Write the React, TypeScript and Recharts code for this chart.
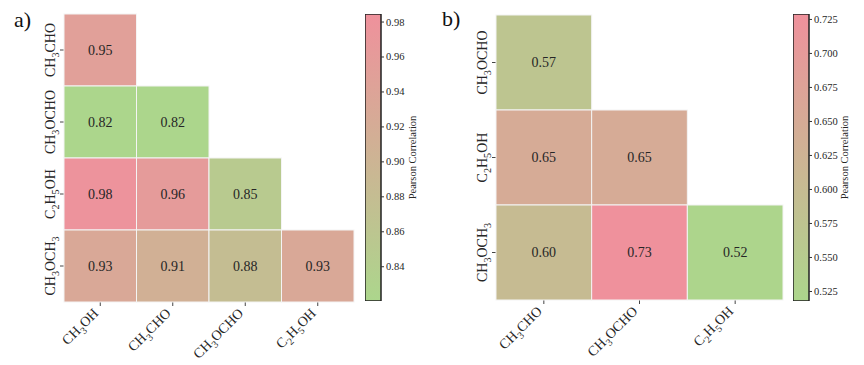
import React from "react"
import { ScatterChart, Scatter, XAxis, YAxis, BarChart, Bar } from "recharts"

// panel a
const colsA = ["CH3OH", "CH3CHO", "CH3OCHO", "C2H5OH"]
const rowsA = ["CH3CHO", "CH3OCHO", "C2H5OH", "CH3OCH3"]
const valuesA = [
  [0.95],
  [0.82, 0.82],
  [0.98, 0.96, 0.85],
  [0.93, 0.91, 0.88, 0.93],
]
const rangeA = [0.8204, 0.9846]
const ticksA = [0.84, 0.86, 0.88, 0.9, 0.92, 0.94, 0.96, 0.98]

// panel b
const colsB = ["CH3CHO", "CH3OCHO", "C2H5OH"]
const rowsB = ["CH3OCHO", "C2H5OH", "CH3OCH3"]
const valuesB = [
  [0.57],
  [0.65, 0.65],
  [0.6, 0.73, 0.52],
]
const rangeB = [0.518, 0.729]
const ticksB = [0.525, 0.55, 0.575, 0.6, 0.625, 0.65, 0.675, 0.7, 0.725]

const LOW = [172, 214, 140]
const HIGH = [239, 145, 156]
const FONT = "Liberation Serif, DejaVu Serif, serif"
const TEXT = "#262626"
const serif = { fontFamily: FONT }

function colorFor(v: number, range: number[]) {
  const t = Math.max(0, Math.min(1, (v - range[0]) / (range[1] - range[0])))
  const c = LOW.map((l, i) => Math.round(l + (HIGH[i] - l) * t))
  return `rgb(${c[0]},${c[1]},${c[2]})`
}

// "CH3OCHO" -> text with subscripted digits
function Formula({ name, size }: { name: string; size: number }) {
  const parts = name.split(/(\d)/).filter((p) => p !== "")
  let sub = false
  return (
    <>
      {parts.map((p, i) => {
        const isDigit = /\d/.test(p)
        let dy = 0
        if (isDigit && !sub) dy = size * 0.3
        if (!isDigit && sub) dy = -size * 0.3
        sub = isDigit
        return (
          <tspan key={i} dy={dy} fontSize={isDigit ? size * 0.72 : size}>
            {p}
          </tspan>
        )
      })}
    </>
  )
}

function buildCells(values: number[][], range: number[]) {
  const out: any[] = []
  values.forEach((row, r) =>
    row.forEach((v, c) => {
      out.push({ x: c + 0.5, y: r + 0.5, v, fill: colorFor(v, range) })
    })
  )
  return out
}

function Heatmap({
  cols,
  rows,
  values,
  range,
  width,
  height,
  margin,
  yWidth,
}: {
  cols: string[]
  rows: string[]
  values: number[][]
  range: number[]
  width: number
  height: number
  margin: { top: number; right: number; bottom: number; left: number }
  yWidth: number
}) {
  const xH = 60
  const plotW = width - margin.left - margin.right - yWidth
  const plotH = height - margin.top - margin.bottom - xH
  const cw = plotW / cols.length
  const ch = plotH / rows.length
  const data = buildCells(values, range)

  const CellShape = (p: any) => (
    <g>
      <rect
        x={p.cx - cw / 2}
        y={p.cy - ch / 2}
        width={cw}
        height={ch}
        fill={p.payload.fill}
        stroke="#f4f4f4"
        strokeWidth={1}
      />
      <text
        x={p.cx}
        y={p.cy + 4.5}
        textAnchor="middle"
        style={serif}
        fontSize={14}
        fill={TEXT}
      >
        {p.payload.v.toFixed(2)}
      </text>
    </g>
  )

  const XTick = (p: any) => {
    const name = cols[Math.floor(p.payload.value)]
    const ax = p.x - 1
    const ay = p.y + 6
    return (
      <text
        x={ax}
        y={ay}
        textAnchor="end"
        transform={`rotate(-45, ${ax}, ${ay})`}
        style={serif}
        fontSize={14}
        fill={TEXT}
      >
        <Formula name={name} size={14} />
      </text>
    )
  }

  const YTick = (p: any) => {
    const name = rows[Math.floor(p.payload.value)]
    const bx = p.x - 3
    const by = p.y
    return (
      <text
        x={bx}
        y={by}
        textAnchor="middle"
        transform={`rotate(-90, ${bx}, ${by})`}
        style={serif}
        fontSize={14}
        fill={TEXT}
      >
        <Formula name={name} size={14} />
      </text>
    )
  }

  return (
    <ScatterChart width={width} height={height} margin={margin}>
      <XAxis
        type="number"
        dataKey="x"
        domain={[0, cols.length]}
        ticks={cols.map((_, i) => i + 0.5)}
        height={xH}
        axisLine={false}
        tickLine={{ stroke: "#444" }}
        tickSize={4}
        tick={<XTick />}
        interval={0}
      />
      <YAxis
        type="number"
        dataKey="y"
        domain={[0, rows.length]}
        reversed
        ticks={rows.map((_, i) => i + 0.5)}
        width={yWidth}
        axisLine={false}
        tickLine={{ stroke: "#444" }}
        tickSize={4}
        tick={<YTick />}
        interval={0}
      />
      <Scatter data={data} shape={CellShape} isAnimationActive={false} />
    </ScatterChart>
  )
}

function ColorBar({
  id,
  range,
  ticks,
  digits,
  labelX,
}: {
  id: string
  range: number[]
  ticks: number[]
  digits: number
  labelX: number
}) {
  const data = [{ name: "cb", span: range }]
  const CbLabel = (p: any) => {
    const vb = p.viewBox || { x: 0, y: 14, width: 0, height: 287 }
    const lx = vb.x + labelX
    const ly = vb.y + vb.height / 2
    return (
      <text
        x={lx}
        y={ly}
        textAnchor="middle"
        transform={`rotate(-90, ${lx}, ${ly})`}
        style={serif}
        fontSize={10.5}
        fill={TEXT}
      >
        Pearson Correlation
      </text>
    )
  }
  const CbTick = (p: any) => (
    <text
      x={p.x}
      y={p.y + 3.5}
      textAnchor="start"
      style={serif}
      fontSize={10.5}
      fill={TEXT}
    >
      {Number(p.payload.value).toFixed(digits)}
    </text>
  )
  return (
    <BarChart
      width={80}
      height={365}
      data={data}
      margin={{ top: 14, right: 0, bottom: 64, left: 0 }}
      barCategoryGap={0}
    >
      <defs>
        <linearGradient id={id} x1="0" y1="0" x2="0" y2="1">
          <stop offset="0%" stopColor={`rgb(${HIGH.join(",")})`} />
          <stop offset="100%" stopColor={`rgb(${LOW.join(",")})`} />
        </linearGradient>
      </defs>
      <XAxis dataKey="name" hide />
      <YAxis
        orientation="right"
        type="number"
        domain={range}
        ticks={ticks}
        width={64}
        axisLine={false}
        tickLine={{ stroke: "#333" }}
        tickSize={3}
        tickMargin={2}
        tick={<CbTick />}
        label={<CbLabel />}
        allowDataOverflow
      />
      <Bar
        dataKey="span"
        fill={`url(#${id})`}
        stroke="#222"
        strokeWidth={1.5}
        isAnimationActive={false}
      />
    </BarChart>
  )
}

export default function App() {
  return (
    <div
      style={{
        position: "absolute",
        left: 0,
        top: 0,
        width: 864,
        height: 365,
        background: "#fff",
        overflow: "hidden",
      }}
    >
      <div style={{ position: "absolute", left: 0, top: 0 }}>
        <Heatmap
          cols={colsA}
          rows={rowsA}
          values={valuesA}
          range={rangeA}
          width={360}
          height={365}
          margin={{ top: 14, right: 6, bottom: 3, left: 0 }}
          yWidth={64}
        />
      </div>
      <div style={{ position: "absolute", left: 365, top: 0 }}>
        <ColorBar id="cbA" range={rangeA} ticks={ticksA} digits={2} labelX={35} />
      </div>
      <div style={{ position: "absolute", left: 430, top: 0 }}>
        <Heatmap
          cols={colsB}
          rows={rowsB}
          values={valuesB}
          range={rangeB}
          width={360}
          height={365}
          margin={{ top: 15, right: 7, bottom: 5, left: 0 }}
          yWidth={66}
        />
      </div>
      <div style={{ position: "absolute", left: 793, top: 0 }}>
        <ColorBar id="cbB" range={rangeB} ticks={ticksB} digits={3} labelX={39} />
      </div>
      <div
        style={{
          position: "absolute",
          left: 14,
          top: 7,
          fontFamily: FONT,
          fontSize: 22,
          color: "#111",
        }}
      >
        a)
      </div>
      <div
        style={{
          position: "absolute",
          left: 442,
          top: 6,
          fontFamily: FONT,
          fontSize: 22,
          color: "#111",
        }}
      >
        b)
      </div>
    </div>
  )
}
